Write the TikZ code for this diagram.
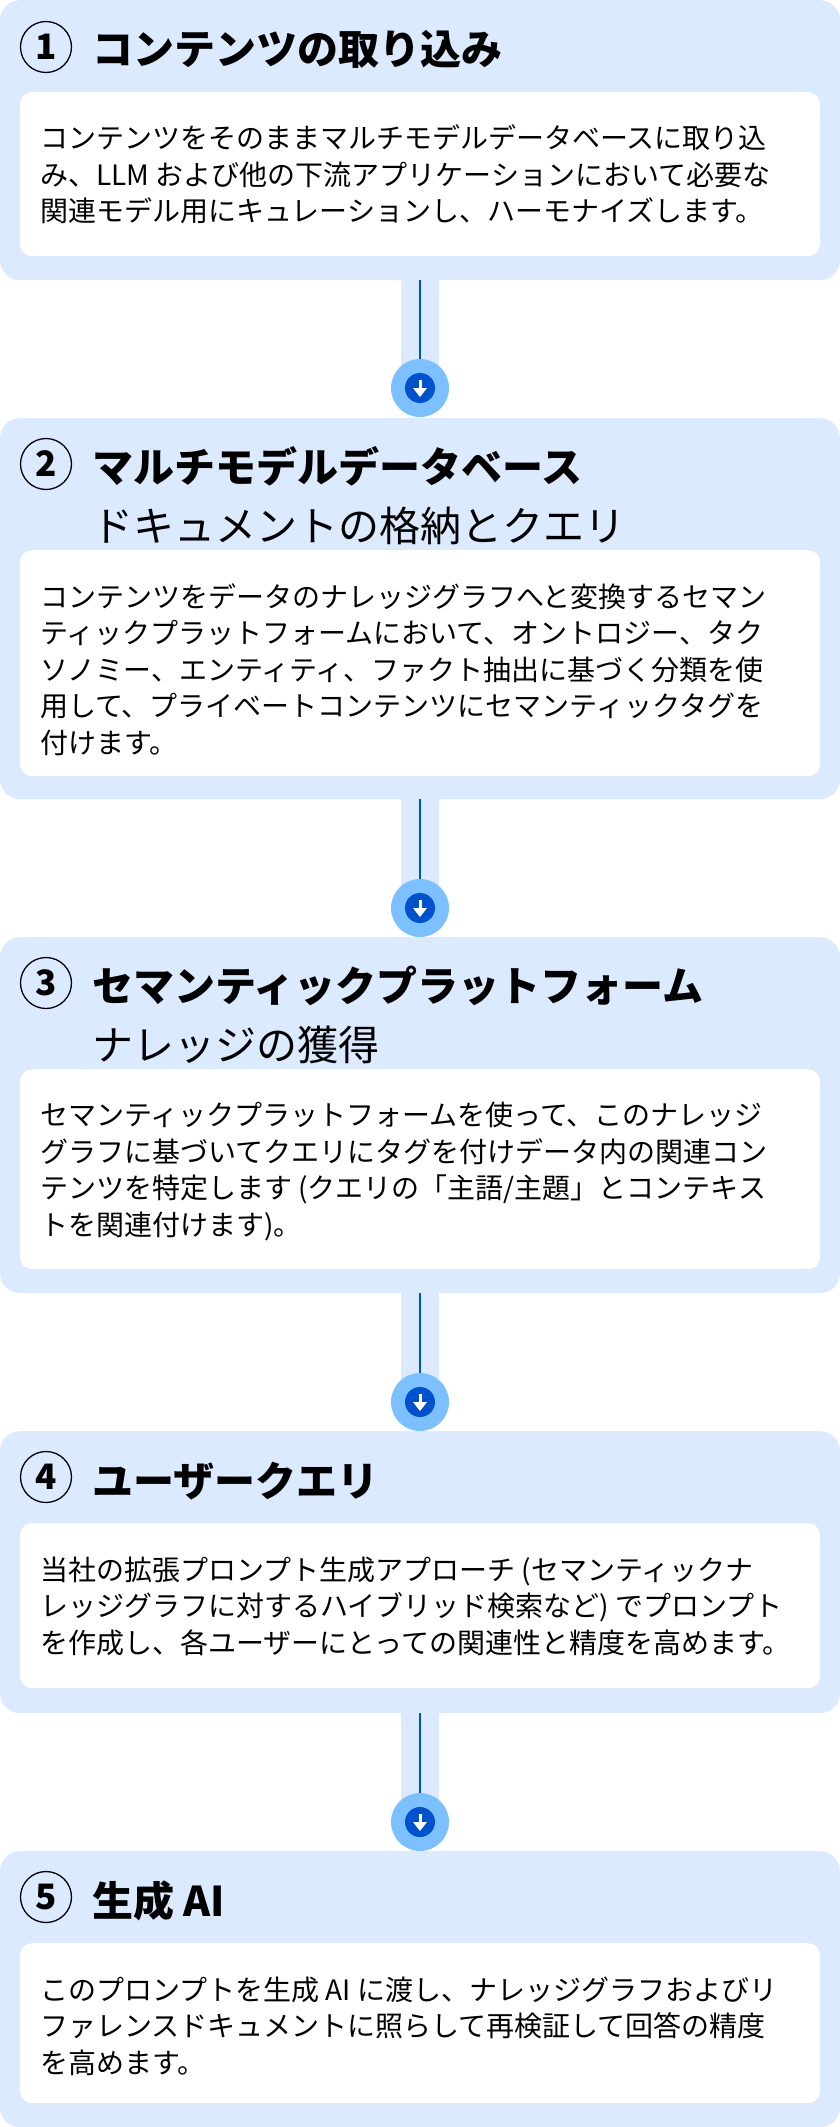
\documentclass[tikz,border=0pt]{standalone}
\usepackage{fontspec}
\setmainfont{Noto Sans CJK JP}
\usetikzlibrary{positioning,calc}
\definecolor{boxblue}{HTML}{DBEAFE}
\definecolor{ringblue}{HTML}{7CC0FF}
\definecolor{darkblue}{HTML}{0052CC}
\tikzset{
	stepbox/.style={fill=boxblue,rounded corners=20pt,inner sep=0,minimum width=840pt,anchor=north},
	textbox/.style={fill=white,rounded corners=12pt,inner sep=0,minimum width=800pt,anchor=north},
	stepnum/.style={circle,draw=black,line width=1.3pt,minimum size=51pt,inner sep=0,font=\fontsize{35}{35}\selectfont\bfseries},
	steptitle/.style={anchor=base west,inner sep=0,font=\fontsize{41}{41}\selectfont\bfseries},
	stepsub/.style={anchor=base west,inner sep=0,font=\fontsize{41}{41}\selectfont},
	bodytext/.style={anchor=base west,inner sep=0,align=left,font=\fontsize{28}{36.5}\selectfont},
	ring/.style={circle,fill=ringblue,minimum size=58pt,inner sep=0},
	dot/.style={circle,fill=darkblue,minimum size=30pt,inner sep=0}
}
\begin{document}
\begin{tikzpicture}[x=1pt,y=-1pt]
				\useasboundingbox (0,0) rectangle (840,2127);
				\node[stepbox,minimum height=280pt] (s1) at (420,0) {};
				\node[stepbox,minimum height=381pt] (s2) at (420,418) {};
				\node[stepbox,minimum height=356pt] (s3) at (420,937) {};
				\node[stepbox,minimum height=282pt] (s4) at (420,1431) {};
				\node[stepbox,minimum height=276pt] (s5) at (420,1851) {};
				\node[textbox,minimum height=164pt] (w1) at (420,92) {};
				\node[textbox,minimum height=226pt] (w2) at (420,550) {};
				\node[textbox,minimum height=200pt] (w3) at (420,1069) {};
				\node[textbox,minimum height=165pt] (w4) at (420,1523) {};
				\node[textbox,minimum height=160pt] (w5) at (420,1943) {};
				\foreach \a/\b/\y in {s1/r1/388,s2/r2/908,s3/r3/1402,s4/r4/1822}
				{
				\coordinate (\b c) at (420,\y);
				\fill[boxblue] ($(\a.south)+(-19,0)$) rectangle ($(\b c)+(19,0)$);
				\node[ring] (\b) at (\b c) {};
				\draw[darkblue,line width=1.5pt] (\a.south) -- (\b.north);
				\node[dot] (\b d) at (\b c) {};
				\draw[white,line width=3pt] ($(\b c)+(0,-8)$) -- ($(\b c)+(0,1)$);
				\fill[white] ($(\b c)+(-7,0)$) -- ($(\b c)+(7,0)$) -- ($(\b c)+(0,9)$) -- cycle;
				}
				\node[stepnum] (n1) at (46,47) {1};
				\node[steptitle] (t1) at (92,65) {コンテンツの取り込み};
				\node[bodytext] (b1) at (40,222) {コンテンツをそのままマルチモデルデータベースに取り込\\み、LLM および他の下流アプリケーションにおいて必要な\\関連モデル用にキュレーションし、ハーモナイズします。};
				\node[stepnum] (n2) at (46,464) {2};
				\node[steptitle] (t2) at (92,482) {マルチモデルデータベース};
				\node[stepsub] (u2) at (92,541) {ドキュメントの格納とクエリ};
				\node[bodytext] (b2) at (40,753) {コンテンツをデータのナレッジグラフへと変換するセマン\\ティックプラットフォームにおいて、オントロジー、タク\\ソノミー、エンティティ、ファクト抽出に基づく分類を使\\用して、プライベートコンテンツにセマンティックタグを\\付けます。};
				\node[stepnum] (n3) at (46,983) {3};
				\node[steptitle] (t3) at (92,1001) {セマンティックプラットフォーム};
				\node[stepsub] (u3) at (92,1060) {ナレッジの獲得};
				\node[bodytext] (b3) at (40,1235) {セマンティックプラットフォームを使って、このナレッジ\\グラフに基づいてクエリにタグを付けデータ内の関連コン\\テンツを特定します (クエリの「主語/主題」とコンテキス\\トを関連付けます)。};
				\node[stepnum] (n4) at (46,1477) {4};
				\node[steptitle] (t4) at (92,1496) {ユーザークエリ};
				\node[bodytext] (b4) at (40,1653) {当社の拡張プロンプト生成アプローチ (セマンティックナ\\レッジグラフに対するハイブリッド検索など) でプロンプト\\を作成し、各ユーザーにとっての関連性と精度を高めます。};
				\node[stepnum] (n5) at (46,1897) {5};
				\node[steptitle] (t5) at (92,1916) {生成 AI};
				\node[bodytext] (b5) at (40,2073) {このプロンプトを生成 AI に渡し、ナレッジグラフおよびリ\\ファレンスドキュメントに照らして再検証して回答の精度\\を高めます。};
				\end{tikzpicture}
\end{document}
